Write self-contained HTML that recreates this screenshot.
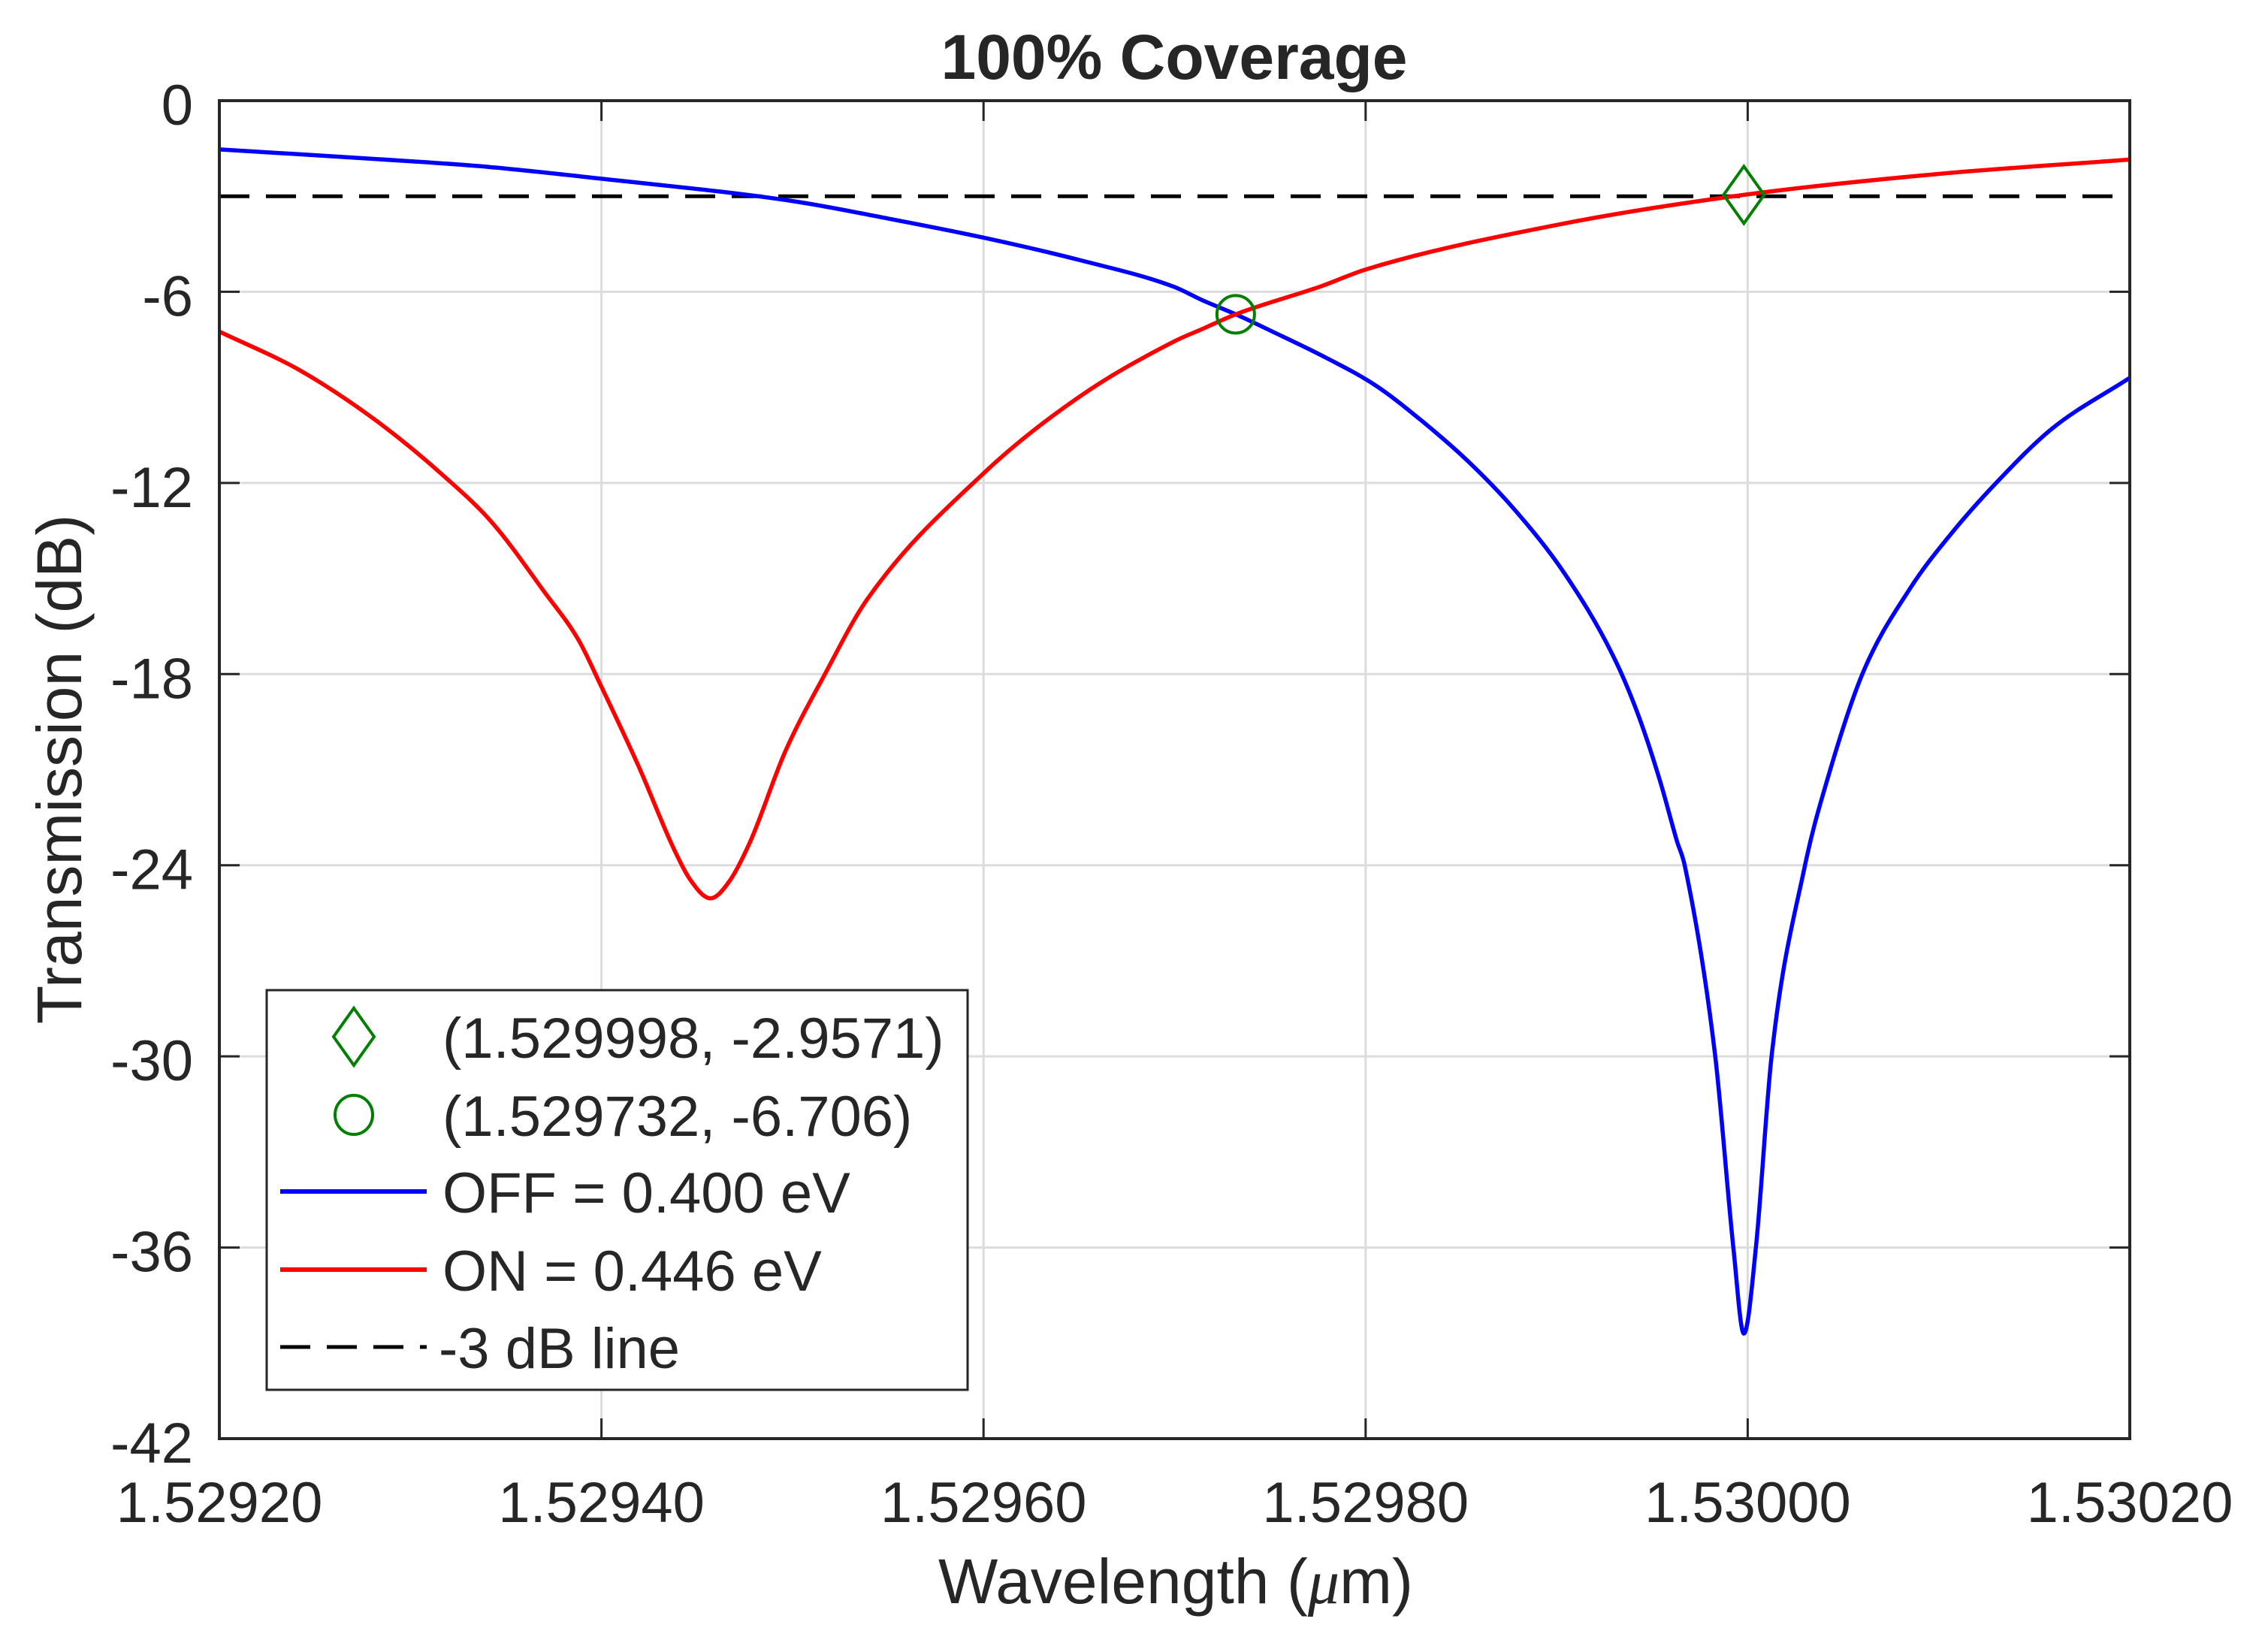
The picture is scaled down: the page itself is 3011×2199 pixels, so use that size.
<!DOCTYPE html>
<html><head><meta charset="utf-8"><title>100% Coverage</title>
<style>html,body{margin:0;padding:0;background:#fff}svg{display:block}text{font-family:"Liberation Sans",Arial,sans-serif;fill:#262626}</style>
</head><body>
<svg id="chart" width="3011" height="2199" viewBox="0 0 3011 2199" xmlns="http://www.w3.org/2000/svg">
<rect width="3011" height="2199" fill="#fff"/>
<g id="grid"></g>
<g id="series"></g>
<g id="axes"></g>
<text x="1563" y="105" font-size="84" font-weight="bold" text-anchor="middle" fill="#000">100% Coverage</text>
<text x="1565" y="2134" font-size="84" text-anchor="middle">Wavelength (<tspan font-family="'Liberation Serif',serif" font-style="italic">μ</tspan>m)</text>
<text transform="translate(108,1024) rotate(-90)" font-size="84" text-anchor="middle">Transmission (dB)</text>
<g>
<rect x="355" y="1318" width="933" height="532" fill="#fff" stroke="#262626" stroke-width="3"/>
<path d="M471 1342 L498 1380 L471 1418 L444 1380 Z" fill="none" stroke="#008000" stroke-width="4"/>
<text x="589" y="1408" font-size="76" fill="#000">(1.529998, -2.9571)</text>
<ellipse cx="471" cy="1484" rx="25" ry="26" fill="none" stroke="#008000" stroke-width="4"/>
<text x="589" y="1512" font-size="76" fill="#000">(1.529732, -6.706)</text>
<line x1="373" y1="1586" x2="568" y2="1586" stroke="#0000ff" stroke-width="6"/>
<text x="589" y="1614" font-size="76" fill="#000">OFF = 0.400 eV</text>
<line x1="373" y1="1690" x2="568" y2="1690" stroke="#ff0000" stroke-width="6"/>
<text x="589" y="1718" font-size="76" fill="#000">ON = 0.446 eV</text>
<line x1="373" y1="1793" x2="568" y2="1793" stroke="#000" stroke-width="5" stroke-dasharray="40 22"/>
<text x="584" y="1821" font-size="76" fill="#000">-3 dB line</text>
</g>
</svg>
<script>
const xTicks = [1.5292, 1.5294, 1.5296, 1.5298, 1.5300, 1.5302];
const xTickLabels = ["1.52920", "1.52940", "1.52960", "1.52980", "1.53000", "1.53020"];
const yTicks = [0, -6, -12, -18, -24, -30, -36, -42];
const yTickLabels = ["0", "-6", "-12", "-18", "-24", "-30", "-36", "-42"];
const offX = [1.52920,1.5293,1.529341,1.5294,1.5295,1.52955,1.5296,1.52965,1.5297,1.529714,1.529732,1.529752,1.529777,1.529805,1.529829,1.529854,1.529878,1.529904,1.529929,1.529942,1.529954,1.529963,1.529967,1.529983,1.5299925,1.529998,1.5300043,1.5300125,1.53003,1.530041,1.53006,1.530085,1.530106,1.530131,1.530159,1.5302];
const offY = [-1.53,-1.9,-2.08,-2.45,-3.15,-3.7,-4.3,-5.0,-5.85,-6.25,-6.706,-7.27,-8.0,-8.93,-10.03,-11.34,-12.84,-14.83,-17.36,-19.17,-21.33,-23.25,-24,-30,-36,-38.7,-36,-30,-24,-21.45,-18,-15.31,-13.63,-11.94,-10.31,-8.7];
const onX = [1.52920,1.529242,1.529282,1.529318,1.529343,1.52937,1.529388,1.5294,1.52942,1.529438,1.529447,1.529457,1.529467,1.529478,1.529496,1.529517,1.529539,1.5296,1.52965,1.5297,1.529714,1.529732,1.529777,1.5298,1.5299,1.529998,1.5301,1.5302];
const onY = [-7.25,-8.46,-10.04,-11.81,-13.26,-15.41,-16.93,-18.4,-20.97,-23.5,-24.5,-25.04,-24.5,-23.24,-20.46,-18.0,-15.66,-11.7,-9.3,-7.55,-7.18,-6.706,-5.82,-5.3,-3.9,-2.957,-2.3,-1.85];
const thresholdDb = [-3];
const diamondPt = [1.529998, -2.9571];
const circlePt = [1.529732, -6.706];

const L = 292, R = 2835, T = 134, B = 1915;
const X0 = 1.5292, X1 = 1.5302, Y0 = -42, Y1 = 0;
function sx(v){ return L + (v - X0) / (X1 - X0) * (R - L); }
function sy(v){ return B - (v - Y0) / (Y1 - Y0) * (B - T); }
const NS = "http://www.w3.org/2000/svg";
function mk(tag, attrs, parent){ const e = document.createElementNS(NS, tag); for (const k in attrs) e.setAttribute(k, attrs[k]); parent.appendChild(e); return e; }

const grid = document.getElementById('grid');
const series = document.getElementById('series');
const axes = document.getElementById('axes');

xTicks.forEach((t, i) => {
  const x = sx(t);
  if (i > 0 && i < xTicks.length - 1) {
    const g = mk('line', {x1:x, y1:T, x2:x, y2:B, stroke:'#dcdcdc', 'stroke-width':3}, grid);
    
    
  }
  const tk = mk('line', {x1:x, y1:B, x2:x, y2:B-27, stroke:'#262626', 'stroke-width':3}, axes);
  
  
  const tk2 = mk('line', {x1:x, y1:T, x2:x, y2:T+27, stroke:'#262626', 'stroke-width':3}, axes);
  
  
  const lb = mk('text', {x:x, y:2026, 'font-size':76, 'text-anchor':'middle'}, axes);
  lb.textContent = xTickLabels[i];
  
  
});
yTicks.forEach((t, i) => {
  const y = sy(t);
  if (i > 0 && i < yTicks.length - 1) {
    const g = mk('line', {x1:L, y1:y, x2:R, y2:y, stroke:'#dcdcdc', 'stroke-width':3}, grid);
    
    
  }
  const tk = mk('line', {x1:L, y1:y, x2:L+27, y2:y, stroke:'#262626', 'stroke-width':3}, axes);
  
  
  const tk2 = mk('line', {x1:R, y1:y, x2:R-27, y2:y, stroke:'#262626', 'stroke-width':3}, axes);
  
  
  const lb = mk('text', {x:257, y:y+32, 'font-size':76, 'text-anchor':'end'}, axes);
  lb.textContent = yTickLabels[i];
  
  
});
const frame = mk('rect', {x:L, y:T, width:R-L, height:B-T, fill:'none', stroke:'#262626', 'stroke-width':4}, axes);



// monotone cubic (Fritsch-Carlson) path in pixel space
function smoothPath(xs, ys){
  const px = xs.map(sx), py = ys.map(sy), n = px.length;
  const d = [], m = new Array(n);
  for (let i = 0; i < n - 1; i++) d.push((py[i+1] - py[i]) / (px[i+1] - px[i]));
  m[0] = d[0]; m[n-1] = d[n-2];
  for (let i = 1; i < n - 1; i++) m[i] = (d[i-1] * d[i] <= 0) ? 0 : (d[i-1] + d[i]) / 2;
  for (let i = 0; i < n - 1; i++) {
    if (d[i] === 0) { m[i] = 0; m[i+1] = 0; continue; }
    const a = m[i] / d[i], b = m[i+1] / d[i], s = a*a + b*b;
    if (s > 9) { const t = 3 / Math.sqrt(s); m[i] = t*a*d[i]; m[i+1] = t*b*d[i]; }
  }
  let p = 'M' + px[0].toFixed(1) + ' ' + py[0].toFixed(1);
  for (let i = 0; i < n - 1; i++) {
    const h = (px[i+1] - px[i]) / 3;
    p += ' C' + (px[i]+h).toFixed(1) + ' ' + (py[i]+m[i]*h).toFixed(1) + ' ' + (px[i+1]-h).toFixed(1) + ' ' + (py[i+1]-m[i+1]*h).toFixed(1) + ' ' + px[i+1].toFixed(1) + ' ' + py[i+1].toFixed(1);
  }
  return p;
}
const th = mk('line', {x1:L, y1:sy(thresholdDb[0]), x2:R, y2:sy(thresholdDb[0]), stroke:'#000', 'stroke-width':5, 'stroke-dasharray':'40 22'}, series);


const off = mk('path', {d:smoothPath(offX, offY), fill:'none', stroke:'#0000ff', 'stroke-width':5.5, 'stroke-linejoin':'round'}, series);


const on = mk('path', {d:smoothPath(onX, onY), fill:'none', stroke:'#ff0000', 'stroke-width':5.5, 'stroke-linejoin':'round'}, series);


const dx = sx(diamondPt[0]), dy = sy(diamondPt[1]);
const dm = mk('path', {d:`M${dx} ${dy-38} L${dx+27} ${dy} L${dx} ${dy+38} L${dx-27} ${dy} Z`, fill:'none', stroke:'#008000', 'stroke-width':4}, series);


const cm = mk('circle', {cx:sx(circlePt[0]), cy:sy(circlePt[1]), r:25, fill:'none', stroke:'#008000', 'stroke-width':4}, series);


</script>
</body></html>
